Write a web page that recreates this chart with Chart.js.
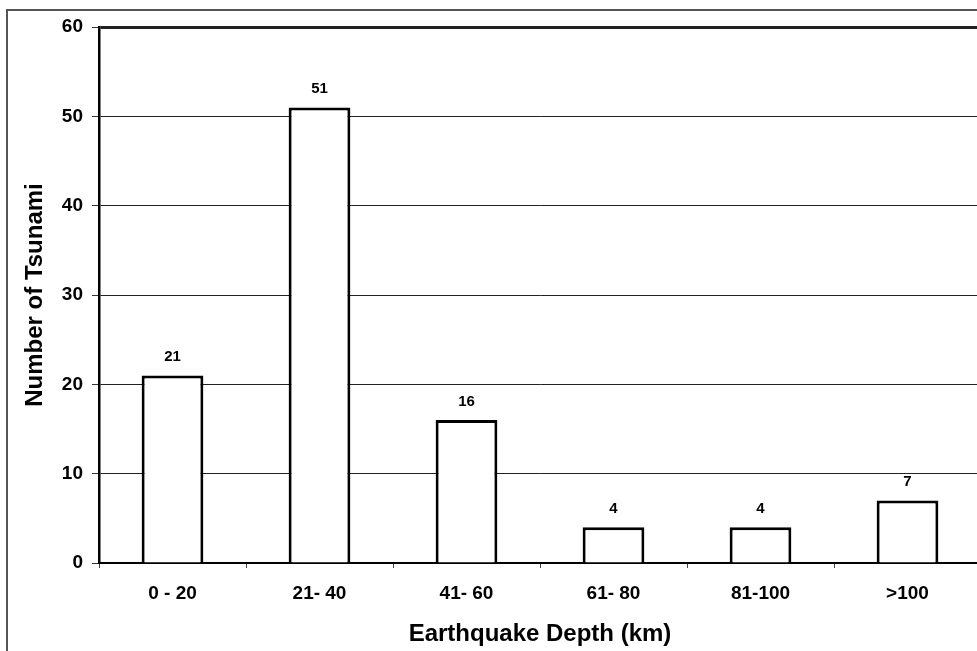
<!DOCTYPE html>
<html>
<head>
<meta charset="utf-8">
<script src="https://cdn.jsdelivr.net/npm/chart.js@4/dist/chart.umd.min.js"></script>
<style>
  html, body { margin: 0; padding: 0; background: #fff; overflow: hidden; }
  #wrap { width: 990px; height: 651px; position: relative; }
</style>
</head>
<body>
<div id="wrap"><canvas id="chart"></canvas></div>
<script>
// depth bins and tsunami counts
const depthBins = ['0 - 20', '21- 40', '41- 60', '61- 80', '81-100', '>100'];
const tsunamiCounts = [21, 51, 16, 4, 4, 7];
const yTicks = [0, 10, 20, 30, 40, 50, 60];

const FONT = '"Liberation Sans", Arial, sans-serif';

// grey frame round the whole chart (cut off at right and bottom)
const outerFrame = {
  id: 'outerFrame',
  beforeDraw(chart) {
    const ctx = chart.ctx;
    ctx.save();
    ctx.fillStyle = '#fff';
    ctx.fillRect(0, 0, chart.width, chart.height);
    ctx.strokeStyle = '#555';
    ctx.lineWidth = 2;
    ctx.strokeRect(7, 10, 2000, 2000);
    ctx.restore();
  }
};

// value labels above each bar
const barValues = {
  id: 'barValues',
  afterDatasetsDraw(chart) {
    const ctx = chart.ctx;
    const meta = chart.getDatasetMeta(0);
    ctx.save();
    ctx.font = 'bold 15px ' + FONT;
    ctx.fillStyle = '#000';
    ctx.textAlign = 'center';
    ctx.textBaseline = 'alphabetic';
    meta.data.forEach((bar, i) => {
      ctx.fillText(String(tsunamiCounts[i]), bar.x, bar.y - 14);
    });
    ctx.restore();
  }
};

new Chart(document.getElementById('chart'), {
  type: 'bar',
  data: {
    labels: depthBins,
    datasets: [{
      data: tsunamiCounts,
      backgroundColor: '#fff',
      borderColor: '#000',
      borderWidth: 3,
      barPercentage: 0.42,
      categoryPercentage: 1
    }]
  },
  options: {
    responsive: true,
    maintainAspectRatio: false,
    animation: false,
    layout: { padding: { top: 27, left: 0, right: 9, bottom: 0 } },
    plugins: {
      legend: { display: false },
      tooltip: { enabled: false }
    },
    scales: {
      x: {
        offset: true,
        afterFit(scale) { scale.height = 88; },
        grid: {
          offset: true,
          drawOnChartArea: false,
          color: '#444',
          tickLength: 5,
          lineWidth: 1
        },
        border: { color: '#000', width: 2 },
        ticks: {
          color: '#000',
          padding: 14,
          maxRotation: 0,
          font: { family: FONT, size: 19, weight: 'bold' }
        },
        title: {
          display: true,
          text: 'Earthquake Depth (km)',
          color: '#000',
          font: { family: FONT, size: 24, weight: 'bold' },
          padding: { top: 4, bottom: 2 }
        }
      },
      y: {
        min: 0,
        max: 60,
        afterFit(scale) { scale.width = 99; },
        afterBuildTicks(scale) {
          scale.ticks = yTicks.map(v => ({ value: v }));
        },
        grid: {
          color: '#222',
          lineWidth: ctx => (ctx.tick && ctx.tick.value === 60 ? 3 : 1),
          tickLength: 7,
          tickWidth: 1,
          tickColor: '#333'
        },
        border: { color: '#000', width: 2.5 },
        ticks: {
          color: '#000',
          padding: 9,
          font: { family: FONT, size: 19, weight: 'bold' }
        },
        title: {
          display: true,
          text: 'Number of Tsunami',
          color: '#000',
          font: { family: FONT, size: 24, weight: 'bold' },
          padding: { top: 21, bottom: 4 }
        }
      }
    }
  },
  plugins: [outerFrame, barValues]
});
</script>
</body>
</html>
